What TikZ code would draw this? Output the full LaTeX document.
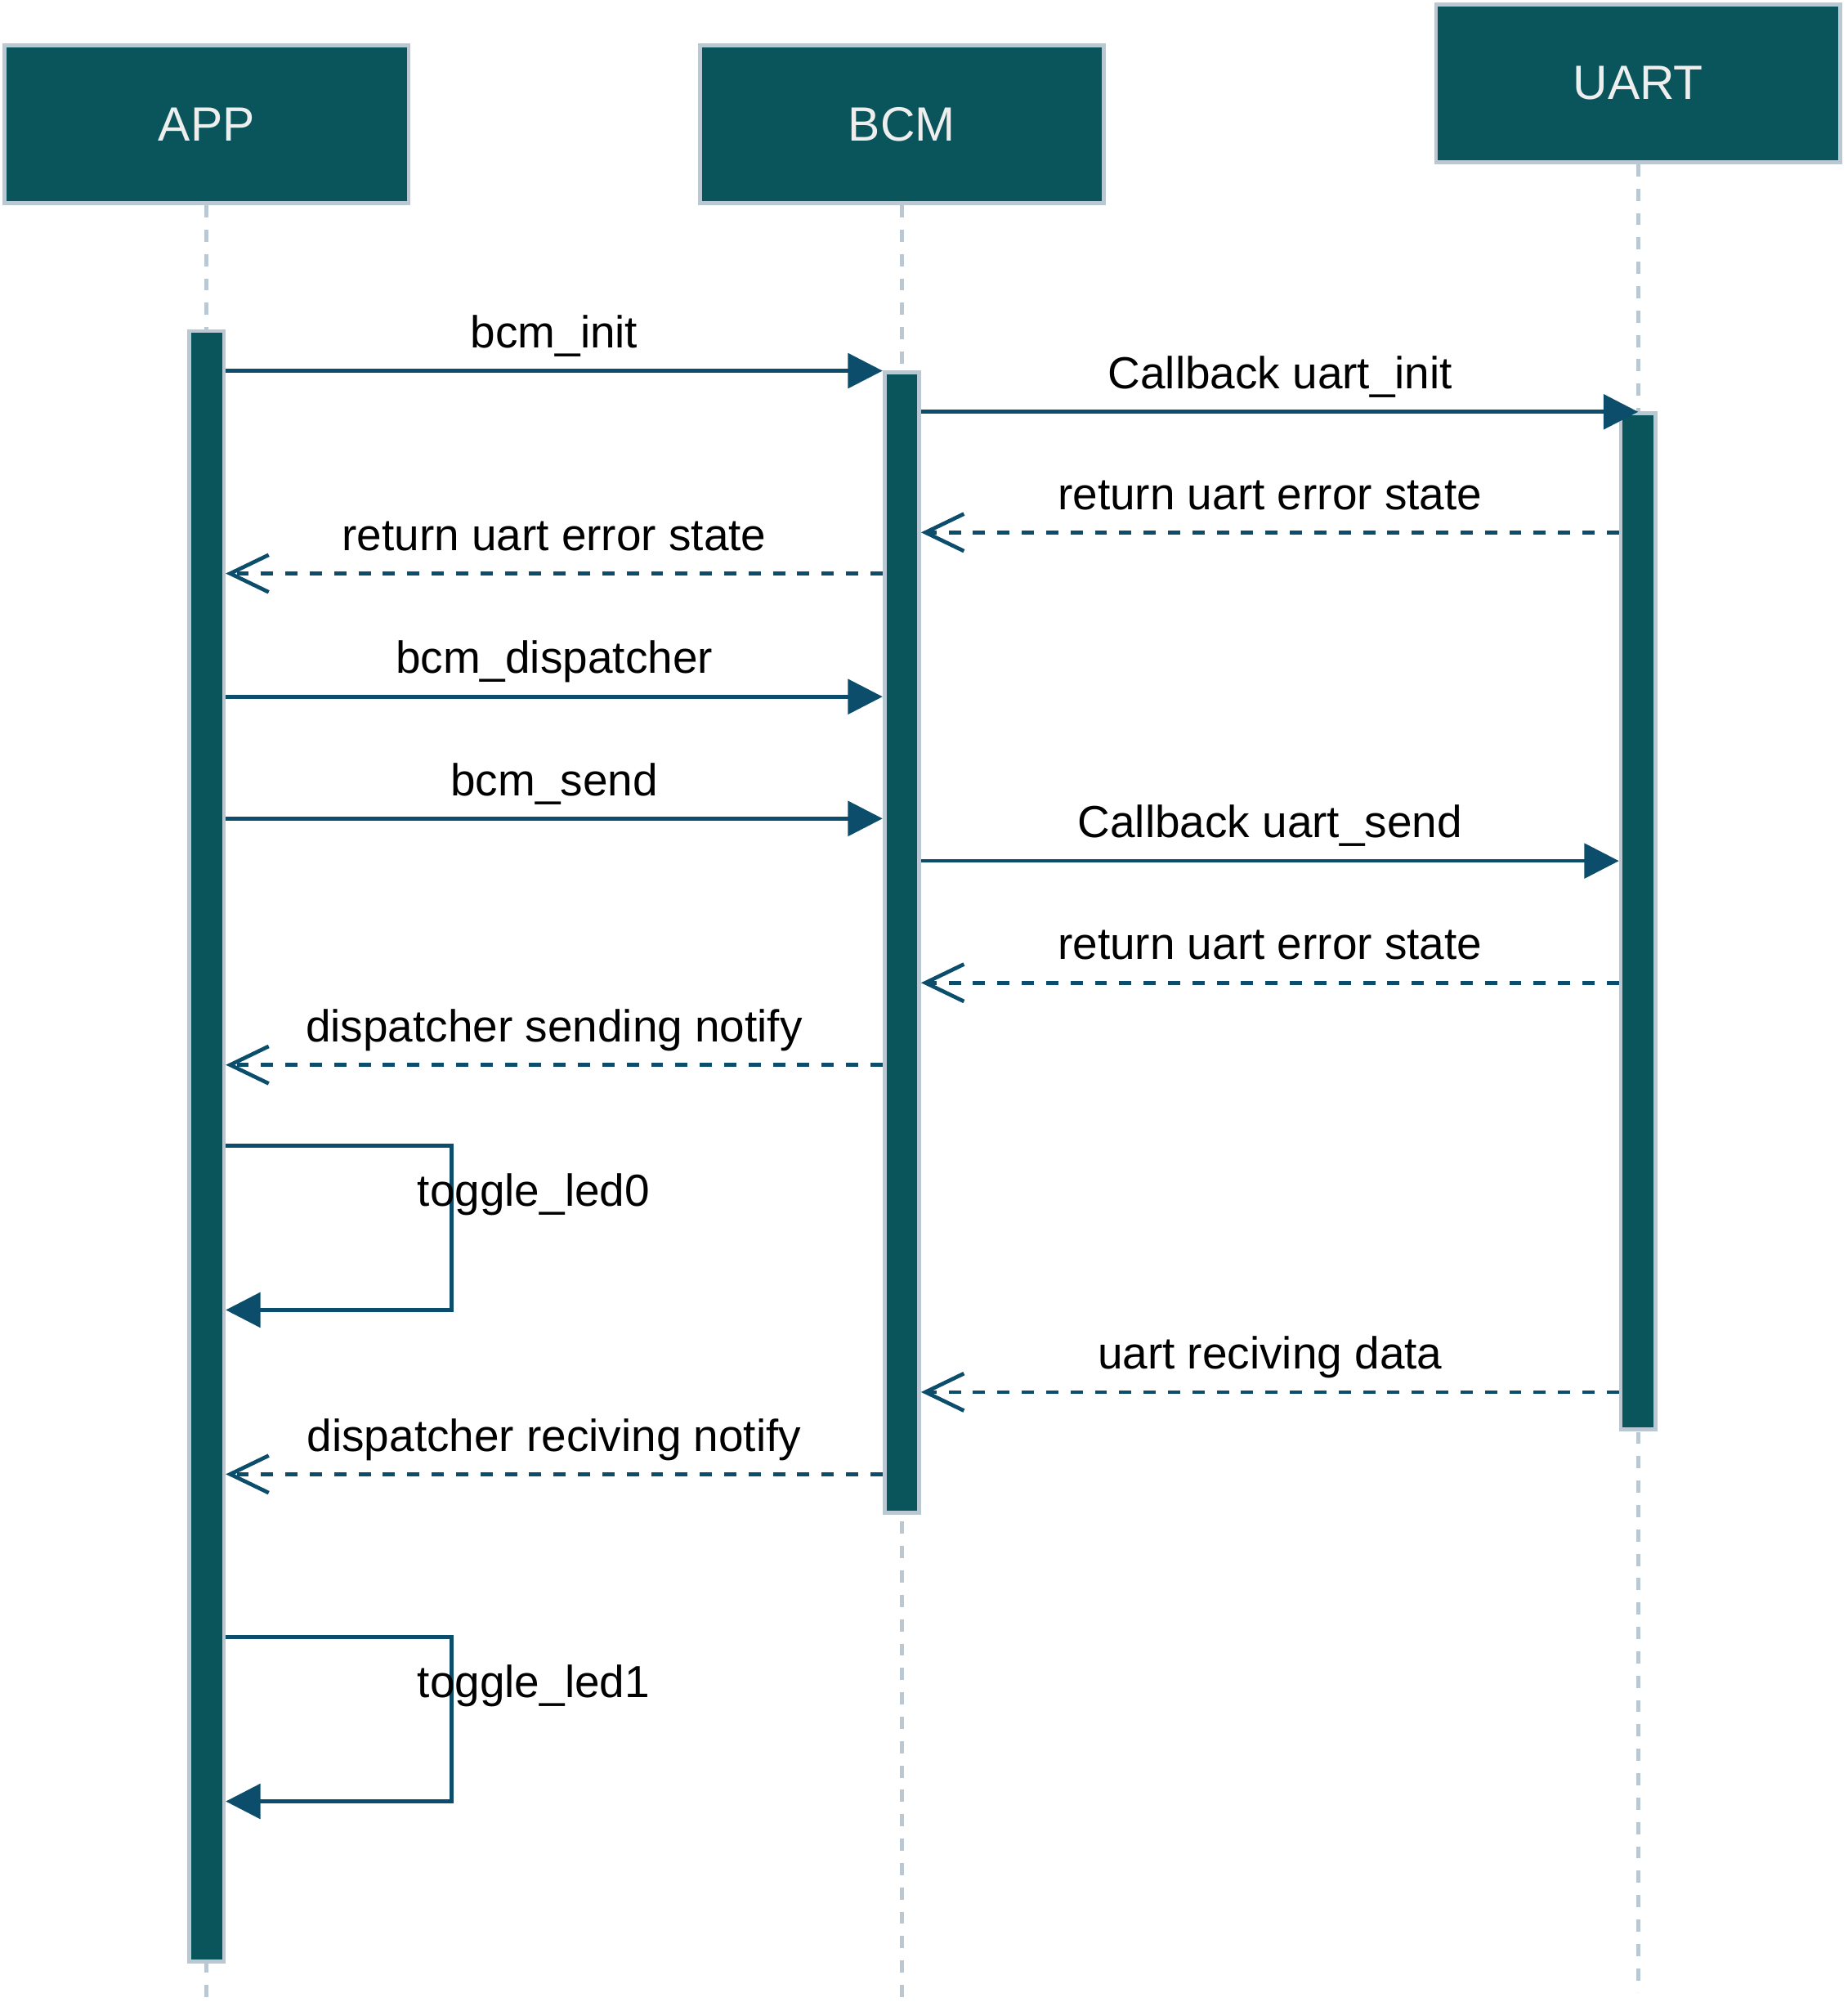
\documentclass[tikz,border=0pt]{standalone}
\usepackage{fontspec}
\setmainfont{Liberation Sans}
\usepackage{tikz}
\usetikzlibrary{arrows.meta}
\usepackage{xcolor}
\definecolor{headfill}{HTML}{09555B}
\definecolor{headline}{HTML}{BAC8D3}
\definecolor{headtext}{HTML}{EEEEEE}
\definecolor{msgcol}{HTML}{0B4D6A}

\begin{document}
\begin{tikzpicture}[x=1pt, y=-1pt, head/.style={rectangle, draw=headline, fill=headfill, line width=3pt, minimum width=315pt, minimum height=123pt, inner sep=0pt, text=headtext, font=\fontsize{37.5}{45}\selectfont}, bar/.style={rectangle, draw=headline, fill=headfill, line width=3pt, minimum width=27pt, inner sep=0pt}, life/.style={draw=headline, line width=3pt, dash pattern=on 9.5pt off 9.5pt}, msg/.style={color=msgcol, line width=3pt, -{Triangle[length=27pt,width=27pt]}}, ret/.style={color=msgcol, line width=3pt, dash pattern=on 9.5pt off 9.5pt, -{Straight Barb[length=30pt,width=29pt]}}, lbl/.style={anchor=base, inner sep=0pt, font=\fontsize{35}{42}\selectfont}]
\useasboundingbox (0,0) rectangle (1440,1567.4);
\node[head] (app) at (161,97) {APP};
\node[head] (bcm) at (703,97) {BCM};
\node[head] (uart) at (1277,65) {UART};
\coordinate (append) at (161,1562);
\coordinate (bcmend) at (703,1562);
\coordinate (uartend) at (1277,1553);
\draw[life] (app.south) -- (append);
\draw[life] (bcm.south) -- (bcmend);
\draw[life] (uart.south) -- (uartend);
\node[bar, minimum height=1271pt] (appbar) at (161,893.5) {};
\node[bar, minimum height=889pt] (bcmbar) at (703,734.5) {};
\node[bar, minimum height=792pt] (uartbar) at (1277,718) {};
% calls and returns
\draw[msg] (appbar.east |- 0,289) -- (bcmbar.west |- 0,289);
\draw[msg] (bcmbar.east |- 0,321) -- (uartbar.center |- 0,321);
\draw[ret] (uartbar.west |- 0,415) -- (bcmbar.east |- 0,415);
\draw[ret] (bcmbar.west |- 0,447) -- (appbar.east |- 0,447);
\draw[msg] (appbar.east |- 0,543) -- (bcmbar.west |- 0,543);
\draw[msg] (appbar.east |- 0,638) -- (bcmbar.west |- 0,638);
\draw[msg] (bcmbar.east |- 0,671) -- (uartbar.west |- 0,671);
\draw[ret] (uartbar.west |- 0,766) -- (bcmbar.east |- 0,766);
\draw[ret] (bcmbar.west |- 0,830) -- (appbar.east |- 0,830);
\draw[ret] (uartbar.west |- 0,1085) -- (bcmbar.east |- 0,1085);
\draw[ret] (bcmbar.west |- 0,1149) -- (appbar.east |- 0,1149);
% self calls
\coordinate (led0) at (352,1021);
\coordinate (led1) at (352,1404);
\draw[msg] (appbar.east |- 0,893) -| (led0) -- (appbar.east |- led0);
\draw[msg] (appbar.east |- 0,1276) -| (led1) -- (appbar.east |- led1);
% labels
\node[lbl] (l1) at (432,271) {bcm\_init};
\node[lbl] (l2) at (998,303) {Callback uart\_init};
\node[lbl] (l3) at (990,397) {return uart error state};
\node[lbl] (l4) at (432,429) {return uart error state};
\node[lbl] (l5) at (432,525) {bcm\_dispatcher};
\node[lbl] (l6) at (432,620) {bcm\_send};
\node[lbl] (l7) at (990,653) {Callback uart\_send};
\node[lbl] (l8) at (990,748) {return uart error state};
\node[lbl] (l9) at (432,812) {dispatcher sending notify};
\node[lbl] (l10) at (416,940) {toggle\_led0};
\node[lbl] (l11) at (990,1067) {uart reciving data};
\node[lbl] (l12) at (432,1131) {dispatcher reciving notify};
\node[lbl] (l13) at (416,1323) {toggle\_led1};
\end{tikzpicture}
\end{document}
